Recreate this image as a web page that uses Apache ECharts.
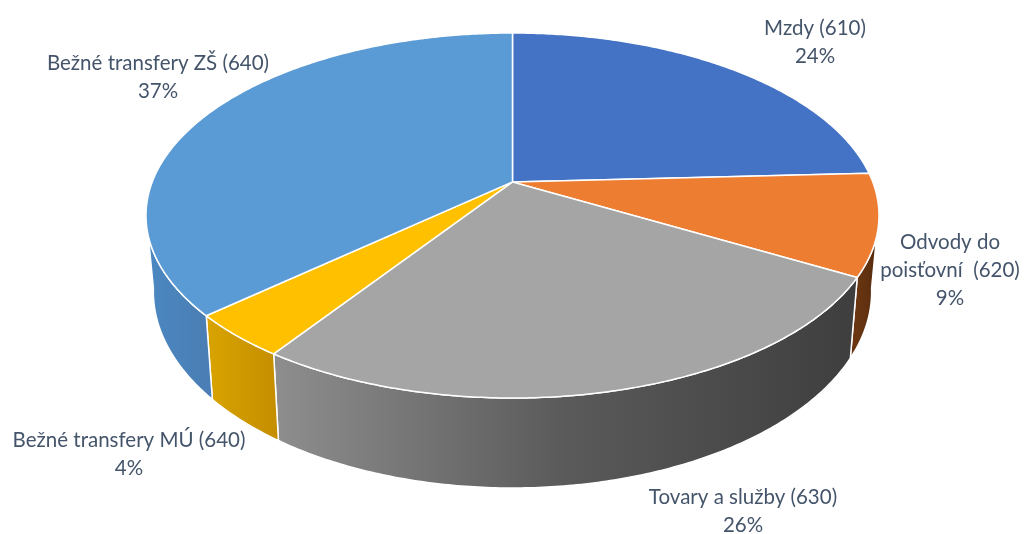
<!DOCTYPE html>
<html>
<head>
<meta charset="utf-8">
<script src="https://cdn.jsdelivr.net/npm/echarts@6/dist/echarts.min.js"></script>
<style>
  html, body { margin: 0; padding: 0; background: #fff; }
  #chart { width: 1024px; height: 534px; }
</style>
</head>
<body>
<div id="chart"></div>
<script>
// data
const categories = ['Mzdy (610)', 'Odvody do\npoisťovní  (620)', 'Tovary a služby (630)', 'Bežné transfery MÚ (640)', 'Bežné transfery ZŠ (640)'];
const values = [24.2, 9.0, 26.3, 3.9, 36.6];

// look
const topColors = ['#4472C4', '#ED7D31', '#A5A5A5', '#FFC000', '#5B9BD5'];
const sideStops = [
  ['#2f5597', '#2a4c88'],
  ['#6a3612', '#552a0c'],
  ['#8e8e8e', '#5a5a5a', '#3e3e3e'],
  ['#d9a400', '#c58f00'],
  ['#4c88c2', '#4a7eb4']
];
const labelPos = [[815, 42], [950, 270], [743, 511], [129, 454], [158, 77]];

// pie geometry (perspective ellipse)
const cx = 512.5, cy = 215.5, rx = 366.5, ry = 182.5;
const persp = -0.184;               // how far centre sits above ellipse centre
const kx = Math.sqrt(1 - persp * persp);
const depth = 90, shrink = 0.98;

const total = values.reduce((a, b) => a + b, 0);

function proj(alpha) {
  const u = Math.sin(alpha), v = -Math.cos(alpha);
  const w = persp * v + 1;
  const X = kx * u / w, Y = (v + persp) / w;
  return {
    top: [cx + rx * X, cy + ry * Y],
    bot: [cx + rx * X * shrink, cy + ry * Y + depth * (1 + persp) / w],
    Y: Y
  };
}

function renderSlice(params, api) {
  const i = params.dataIndex;
  let before = 0;
  for (let j = 0; j < i; j++) before += values[j];
  const a0 = before / total * Math.PI * 2;
  const a1 = (before + values[i]) / total * Math.PI * 2;
  const steps = Math.max(8, Math.ceil((a1 - a0) / 0.01));

  const topPts = [[cx, cy + ry * persp]];
  const frontTop = [], frontBot = [];
  for (let s = 0; s <= steps; s++) {
    const p = proj(a0 + (a1 - a0) * s / steps);
    topPts.push(p.top);
    if (p.Y >= -0.02) { frontTop.push(p.top); frontBot.push(p.bot); }
  }

  const children = [];
  if (frontTop.length > 1) {
    const xs = frontTop.map(p => p[0]);
    const x0 = Math.min(...xs), x1 = Math.max(...xs);
    const stops = sideStops[i].map((c, k, arr) => ({ offset: k / (arr.length - 1), color: c }));
    children.push({
      type: 'polygon',
      z2: 1,
      shape: { points: frontTop.concat(frontBot.slice().reverse()) },
      style: {
        fill: { type: 'linear', x: x0, y: 0, x2: x1, y2: 0, global: true, colorStops: stops },
        stroke: '#fff', lineWidth: 1.5, lineJoin: 'round'
      }
    });
  }
  children.push({
    type: 'polygon',
    z2: 5,
    shape: { points: topPts },
    style: { fill: topColors[i], stroke: '#fff', lineWidth: 1.5, lineJoin: 'round' }
  });
  const pct = Math.round(values[i] / total * 100) + '%';
  children.push({
    type: 'text',
    z2: 10,
    style: {
      text: categories[i] + '\n' + pct,
      x: labelPos[i][0], y: labelPos[i][1],
      align: 'center', verticalAlign: 'middle',
      fill: '#44546A', fontSize: 20.5, lineHeight: 28,
      fontFamily: 'Lato, "Open Sans", sans-serif'
    }
  });
  return { type: 'group', children: children };
}

const chart = echarts.init(document.getElementById('chart'), null, { renderer: 'canvas' });
chart.setOption({
  animation: false,
  series: [{
    type: 'custom',
    coordinateSystem: 'none',
    data: values.map((v, i) => [i, v]),
    renderItem: renderSlice
  }]
});
window.addEventListener('resize', () => chart.resize());
</script>
</body>
</html>
